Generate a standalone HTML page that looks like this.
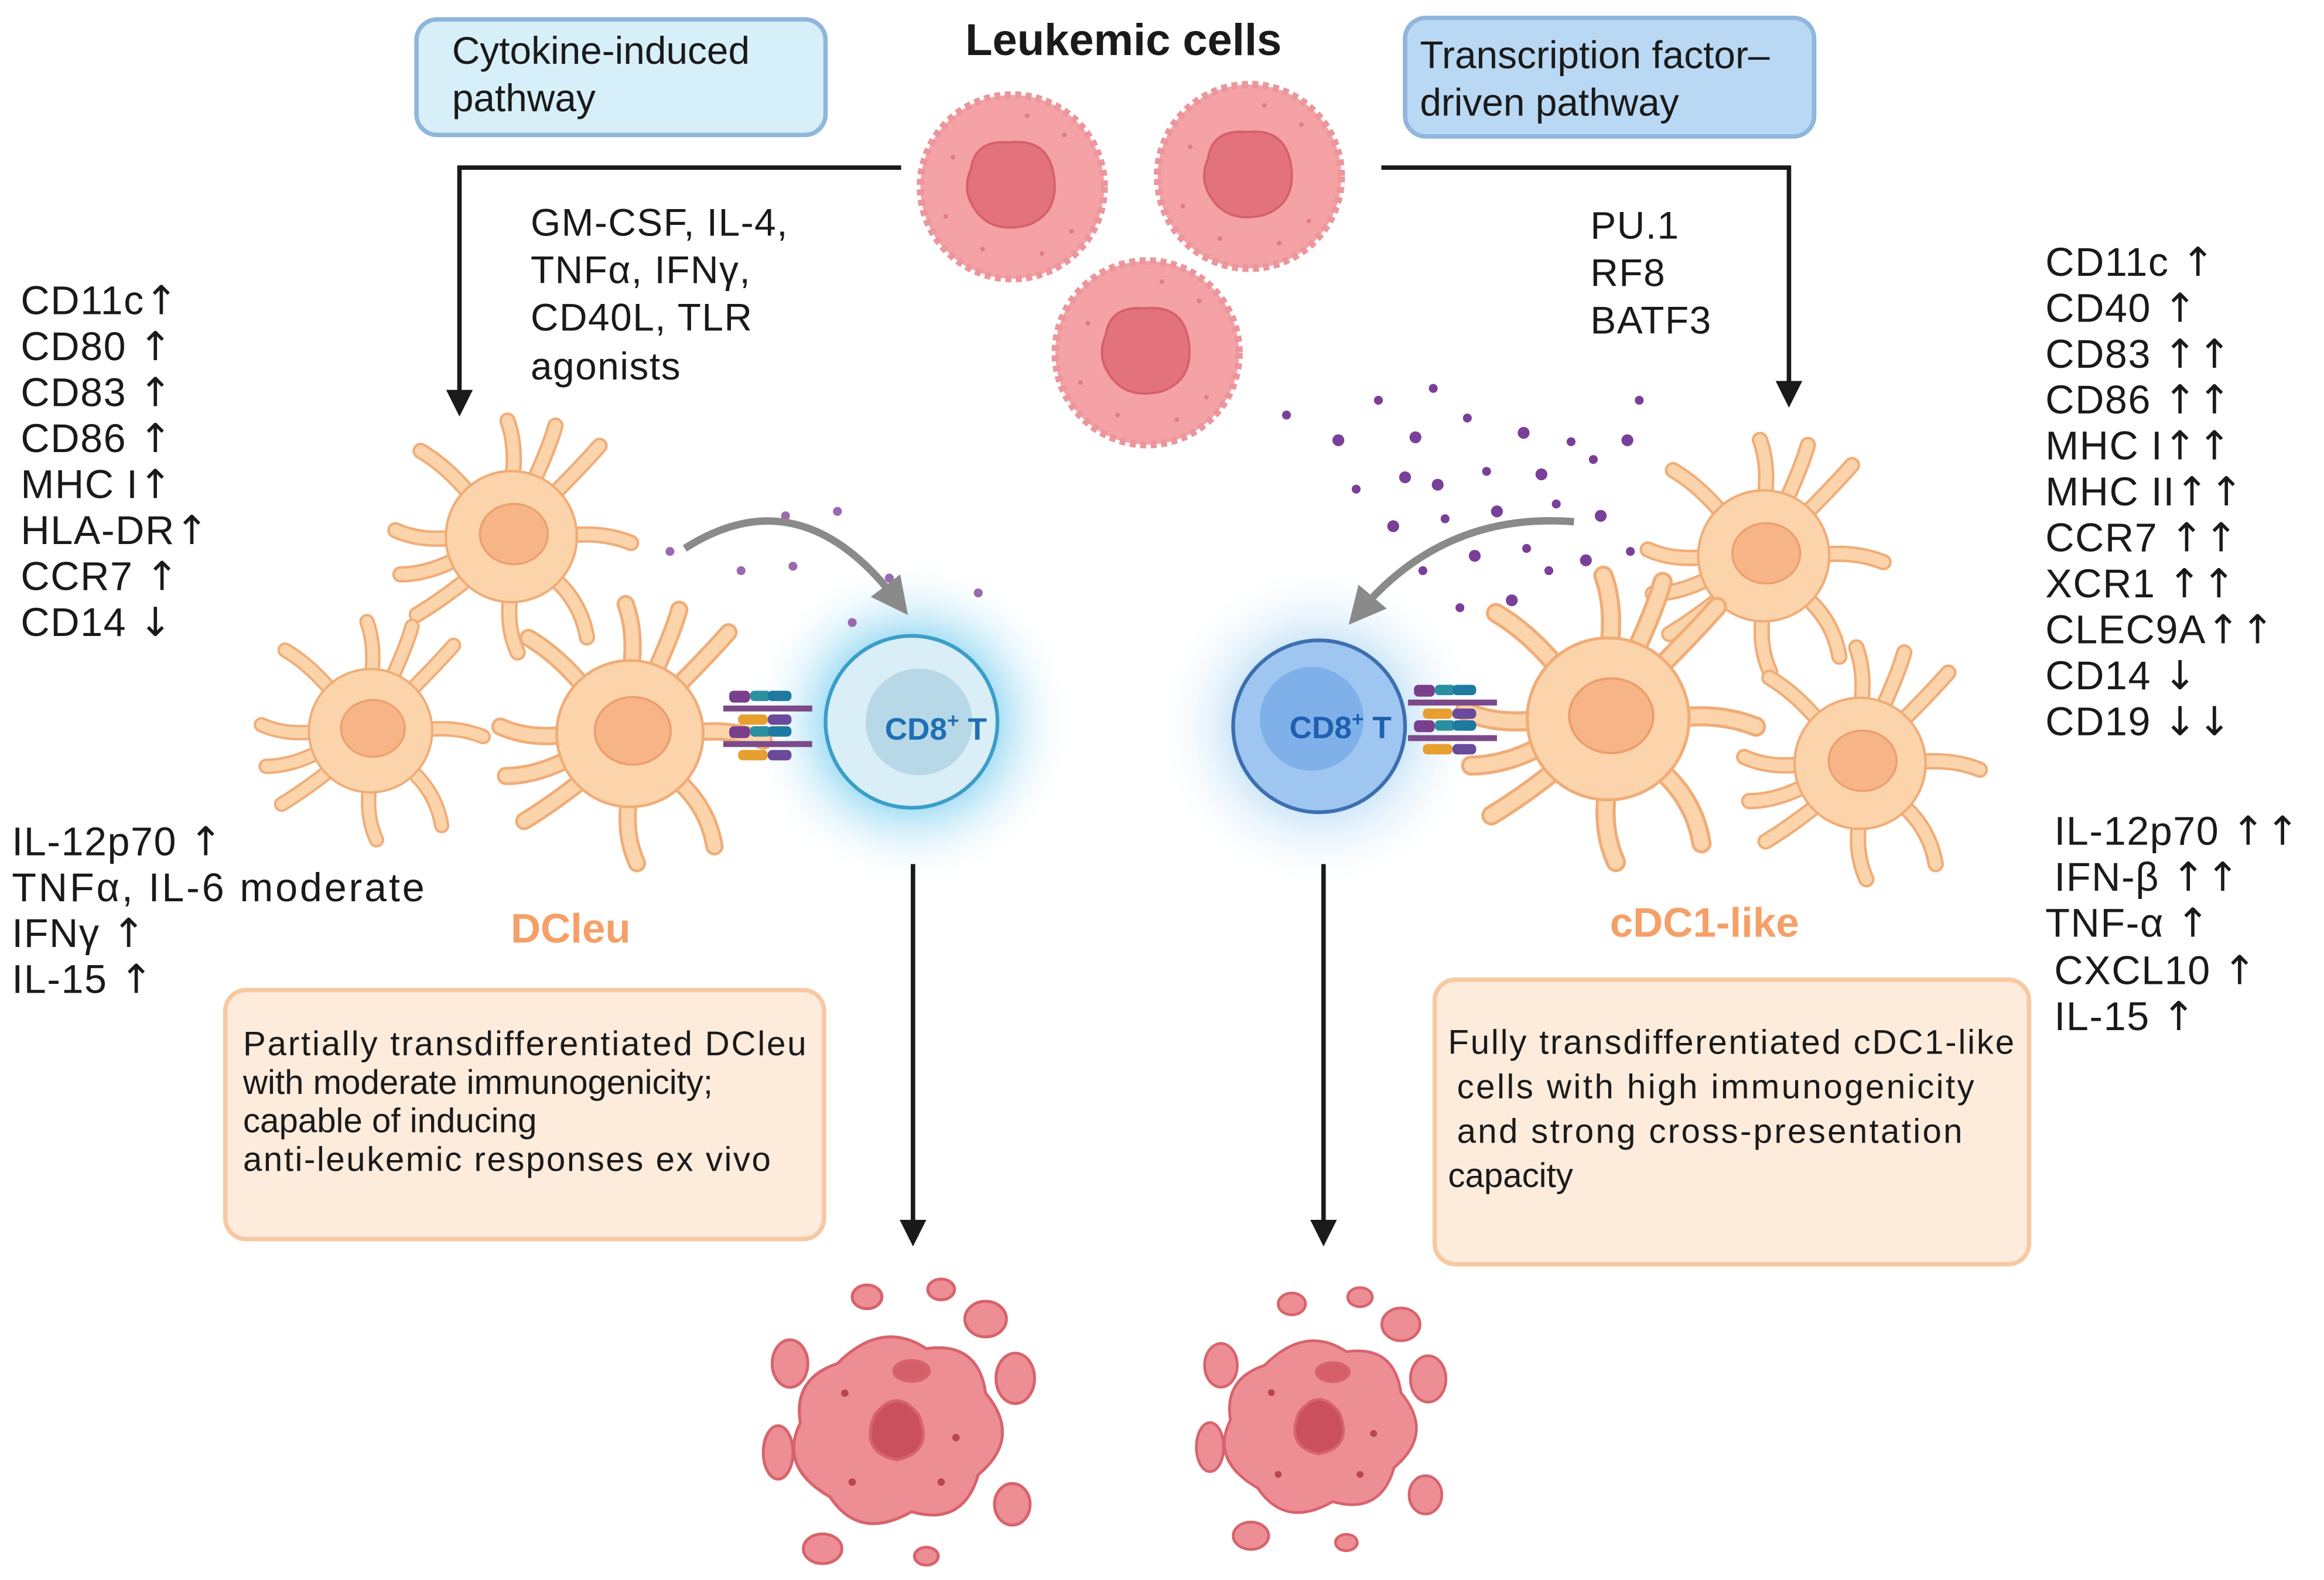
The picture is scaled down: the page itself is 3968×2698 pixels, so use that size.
<!DOCTYPE html>
<html><head><meta charset="utf-8"><style>
html,body{margin:0;padding:0;background:#fff;}
svg{display:block;}
text{font-family:"Liberation Sans",sans-serif;fill:#1a1a1a;}
.ar{font-family:"DejaVu Sans",sans-serif;}
.ls text{letter-spacing:0.6px;}
</style></head><body>
<svg width="3968" height="2698" viewBox="0 0 1568 1066" xmlns="http://www.w3.org/2000/svg">
<defs>
<radialGradient id="glow" cx="0.5" cy="0.5" r="0.5">
<stop offset="0.45" stop-color="#7fd0f0" stop-opacity="0.9"/>
<stop offset="1" stop-color="#ffffff" stop-opacity="0"/>
</radialGradient>
<radialGradient id="glow2" cx="0.5" cy="0.5" r="0.5">
<stop offset="0.45" stop-color="#b8dcf5" stop-opacity="0.9"/>
<stop offset="1" stop-color="#ffffff" stop-opacity="0"/>
</radialGradient>
<marker id="ah" markerWidth="6" markerHeight="6" refX="3" refY="3" orient="auto" markerUnits="strokeWidth">
<path d="M0,0 L6,3 L0,6 z" fill="#1a1a1a"/></marker>
<marker id="gh" markerWidth="5" markerHeight="5" refX="2.5" refY="2.5" orient="auto" markerUnits="strokeWidth">
<path d="M0,0 L5,2.5 L0,5 z" fill="#8a8a8a"/></marker>
<g id="dc">
<g stroke="#f0ad78" stroke-width="13" stroke-linecap="round" fill="none">
<path d="M0,-40 Q5,-70 -3,-92"/><path d="M30,-30 Q55,-55 70,-72"/><path d="M40,0 Q70,-5 95,5"/>
<path d="M30,30 Q55,50 60,80"/><path d="M0,42 Q-5,70 5,92"/><path d="M-30,30 Q-55,50 -75,62"/>
<path d="M-40,0 Q-70,5 -92,-5"/><path d="M-30,-30 Q-50,-55 -72,-68"/><path d="M15,-38 Q30,-70 35,-88"/><path d="M-38,15 Q-65,30 -88,30"/>
</g>
<g stroke="#fcd4ab" stroke-width="9" stroke-linecap="round" fill="none">
<path d="M0,-40 Q5,-70 -3,-92"/><path d="M30,-30 Q55,-55 70,-72"/><path d="M40,0 Q70,-5 95,5"/>
<path d="M30,30 Q55,50 60,80"/><path d="M0,42 Q-5,70 5,92"/><path d="M-30,30 Q-55,50 -75,62"/>
<path d="M-40,0 Q-70,5 -92,-5"/><path d="M-30,-30 Q-50,-55 -72,-68"/><path d="M15,-38 Q30,-70 35,-88"/><path d="M-38,15 Q-65,30 -88,30"/>
</g>
<circle r="52" fill="#fcd4ab" stroke="#f0ad78" stroke-width="2"/>
<ellipse cx="2" cy="-2" rx="27" ry="24" fill="#f7b486" stroke="#eb9e6c" stroke-width="1.5"/>
</g>
<g id="lk">
<circle r="62" fill="#f4a2a6" stroke="#ec959b" stroke-width="5" stroke-dasharray="4 3"/>
<circle r="59" fill="#f4a2a6"/>
<path d="M-28,-12 Q-25,-32 -2,-30 Q24,-33 28,-8 Q32,18 10,26 Q-15,32 -26,14 Q-34,2 -28,-12z" fill="#e2727b" stroke="#d6606a" stroke-width="1.5"/>
<g fill="#e07e85"><circle cx="-40" cy="-20" r="1.6"/><circle cx="35" cy="-35" r="1.6"/><circle cx="-20" cy="42" r="1.6"/><circle cx="40" cy="30" r="1.6"/><circle cx="-45" cy="20" r="1.6"/><circle cx="10" cy="-48" r="1.6"/><circle cx="20" cy="45" r="1.6"/></g>
</g>
<g id="dead" fill="#ec8e94" stroke="#d8636c" stroke-width="2">
<path d="M-40,-40 Q-10,-70 20,-50 Q55,-55 60,-20 Q85,10 55,35 Q45,70 10,60 Q-25,80 -45,50 Q-80,30 -65,0 Q-70,-30 -40,-40z"/>
<ellipse cx="-72" cy="-40" rx="12" ry="16"/><ellipse cx="-80" cy="20" rx="10" ry="18"/><ellipse cx="60" cy="-70" rx="14" ry="12"/>
<ellipse cx="80" cy="-30" rx="13" ry="17"/><ellipse cx="78" cy="55" rx="12" ry="14"/><ellipse cx="-50" cy="85" rx="13" ry="10"/>
<ellipse cx="20" cy="90" rx="8" ry="6"/><ellipse cx="30" cy="-90" rx="9" ry="7"/><ellipse cx="-20" cy="-85" rx="10" ry="8"/>
<path d="M-15,-5 Q0,-25 15,-5 Q25,20 0,25 Q-25,20 -15,-5z" fill="#c9505c"/>
<ellipse cx="10" cy="-35" rx="12" ry="7" fill="#d45f69"/>
<g fill="#b84550" stroke="none"><circle cx="-35" cy="-20" r="2.5"/><circle cx="40" cy="10" r="2.5"/><circle cx="-30" cy="40" r="2.5"/><circle cx="30" cy="40" r="2.5"/></g>
</g>
<g id="recep">
<rect x="0" y="-2" width="60" height="4" fill="#7a4a8a"/>
<rect x="4" y="-12" width="14" height="8" rx="3" fill="#7a3f8c"/><rect x="18" y="-12" width="14" height="7" rx="3" fill="#2a8fa0"/>
<rect x="30" y="-12" width="16" height="7" rx="3" fill="#1f7aa0"/><rect x="10" y="4" width="20" height="7" rx="3" fill="#e6a030"/><rect x="30" y="4" width="16" height="7" rx="3" fill="#6a4a9a"/>
</g>
</defs>

<rect x="281" y="13" width="276" height="78" rx="14" fill="#d7eff8" stroke="#8fb6dc" stroke-width="3"/>
<text x="305" y="43" font-size="26">Cytokine-induced</text>
<text x="305" y="75" font-size="26">pathway</text>
<rect x="948" y="12" width="276" height="80" rx="14" fill="#b9d8f3" stroke="#8fb6dc" stroke-width="3"/>
<text x="958" y="46" font-size="26">Transcription factor–</text>
<text x="958" y="78" font-size="26">driven pathway</text>
<text x="758" y="37" font-size="30" font-weight="bold" text-anchor="middle">Leukemic cells</text>

<use href="#lk" transform="translate(683,126)"/>
<use href="#lk" transform="translate(843,119)"/>
<use href="#lk" transform="translate(774,238)"/>

<path d="M608,113 H310 V272" fill="none" stroke="#1a1a1a" stroke-width="3" marker-end="url(#ah)"/>
<path d="M932,113 H1207 V266" fill="none" stroke="#1a1a1a" stroke-width="3" marker-end="url(#ah)"/>

<g font-size="26" class="ls">
<text x="358" y="159">GM-CSF, IL-4,</text>
<text x="358" y="191">TNFα, IFNγ,</text>
<text x="358" y="223">CD40L, TLR</text>
<text x="358" y="256">agonists</text>
<text x="1073" y="161">PU.1</text>
<text x="1073" y="193">RF8</text>
<text x="1073" y="225">BATF3</text>
</g>

<g font-size="27" class="ls">
<text x="14" y="212">CD11c<tspan class="ar">↑</tspan></text><text x="14" y="243">CD80 <tspan class="ar">↑</tspan></text><text x="14" y="274">CD83 <tspan class="ar">↑</tspan></text><text x="14" y="305">CD86 <tspan class="ar">↑</tspan></text>
<text x="14" y="336">MHC I<tspan class="ar">↑</tspan></text><text x="14" y="367">HLA-DR<tspan class="ar">↑</tspan></text><text x="14" y="398">CCR7 <tspan class="ar">↑</tspan></text><text x="14" y="429">CD14 <tspan class="ar">↓</tspan></text>
<text x="8" y="577">IL-12p70 <tspan class="ar">↑</tspan></text><text x="8" y="608" textLength="279">TNFα, IL-6 moderate</text><text x="8" y="639">IFNγ <tspan class="ar">↑</tspan></text><text x="8" y="670">IL-15 <tspan class="ar">↑</tspan></text>
<text x="1380" y="186">CD11c <tspan class="ar">↑</tspan></text><text x="1380" y="217">CD40 <tspan class="ar">↑</tspan></text><text x="1380" y="248">CD83 <tspan class="ar">↑↑</tspan></text><text x="1380" y="279">CD86 <tspan class="ar">↑↑</tspan></text>
<text x="1380" y="310">MHC I<tspan class="ar">↑↑</tspan></text><text x="1380" y="341">MHC II<tspan class="ar">↑↑</tspan></text><text x="1380" y="372">CCR7 <tspan class="ar">↑↑</tspan></text><text x="1380" y="403">XCR1 <tspan class="ar">↑↑</tspan></text>
<text x="1380" y="434">CLEC9A<tspan class="ar">↑↑</tspan></text><text x="1380" y="465">CD14 <tspan class="ar">↓</tspan></text><text x="1380" y="496">CD19 <tspan class="ar">↓↓</tspan></text>
<text x="1386" y="570">IL-12p70 <tspan class="ar">↑↑</tspan></text><text x="1386" y="601">IFN-β <tspan class="ar">↑↑</tspan></text><text x="1380" y="632">TNF-α <tspan class="ar">↑</tspan></text>
<text x="1386" y="664">CXCL10 <tspan class="ar">↑</tspan></text><text x="1386" y="695">IL-15 <tspan class="ar">↑</tspan></text>
</g>

<circle cx="615" cy="487" r="110" fill="url(#glow)"/>
<circle cx="890" cy="490" r="110" fill="url(#glow2)"/>

<g fill="#9a6ab0">
<circle cx="452" cy="372" r="3"/><circle cx="500" cy="385" r="3"/><circle cx="535" cy="382" r="3"/><circle cx="422" cy="410" r="3"/><circle cx="565" cy="345" r="3"/><circle cx="530" cy="348" r="3"/><circle cx="575" cy="420" r="3"/><circle cx="660" cy="400" r="3"/><circle cx="600" cy="390" r="3"/>
</g>
<g fill="#7a3f98">
<circle cx="903" cy="297" r="4"/><circle cx="930" cy="270" r="3"/><circle cx="967" cy="262" r="3"/><circle cx="955" cy="295" r="4"/><circle cx="990" cy="282" r="3"/><circle cx="1028" cy="292" r="4"/><circle cx="1060" cy="298" r="3"/><circle cx="1098" cy="297" r="4"/><circle cx="1106" cy="270" r="3"/>
<circle cx="915" cy="330" r="3"/><circle cx="948" cy="322" r="4"/><circle cx="970" cy="327" r="4"/><circle cx="1003" cy="318" r="3"/><circle cx="1040" cy="320" r="4"/><circle cx="1075" cy="310" r="3"/><circle cx="940" cy="355" r="4"/><circle cx="975" cy="350" r="3"/><circle cx="1010" cy="345" r="4"/><circle cx="1050" cy="340" r="3"/><circle cx="1080" cy="348" r="4"/>
<circle cx="960" cy="385" r="3"/><circle cx="995" cy="375" r="4"/><circle cx="1030" cy="370" r="3"/><circle cx="1070" cy="378" r="4"/><circle cx="1100" cy="372" r="3"/><circle cx="985" cy="410" r="3"/><circle cx="1020" cy="405" r="4"/><circle cx="1045" cy="385" r="3"/><circle cx="868" cy="280" r="3"/>
</g>

<use href="#dc" transform="translate(345,362) scale(0.85)"/>
<use href="#dc" transform="translate(250,493) scale(0.8)"/>
<use href="#dc" transform="translate(425,495) scale(0.95)"/>
<use href="#dc" transform="translate(1190,375) scale(0.85)"/>
<use href="#dc" transform="translate(1255,515) scale(0.85)"/>
<use href="#dc" transform="translate(1085,485) scale(1.05)"/>

<use href="#recep" transform="translate(488,478)"/>
<use href="#recep" transform="translate(488,502)"/>
<use href="#recep" transform="translate(950,474)"/>
<use href="#recep" transform="translate(950,498)"/>

<circle cx="615" cy="487" r="58" fill="#d9eef6" stroke="#3a9ec8" stroke-width="2.5"/>
<circle cx="620" cy="487" r="36" fill="#b7d8e6"/>
<text x="597" y="499" font-size="21" font-weight="bold" style="fill:#1f6fb5">CD8<tspan font-size="14" dy="-8">+</tspan><tspan dy="8"> T</tspan></text>
<circle cx="890" cy="490" r="58" fill="#9fc6f0" stroke="#3d6fb0" stroke-width="2.5"/>
<circle cx="885" cy="485" r="35" fill="#7fb0ea"/>
<text x="870" y="498" font-size="21" font-weight="bold" style="fill:#1f5fb0">CD8<tspan font-size="14" dy="-8">+</tspan><tspan dy="8"> T</tspan></text>

<path d="M462,370 Q540,320 605,405" fill="none" stroke="#8a8a8a" stroke-width="5" marker-end="url(#gh)"/>
<path d="M1062,352 Q975,345 918,412" fill="none" stroke="#8a8a8a" stroke-width="5" marker-end="url(#gh)"/>

<text x="385" y="636" font-size="28" font-weight="bold" text-anchor="middle" style="fill:#f5a068">DCleu</text>
<text x="1150" y="632" font-size="28" font-weight="bold" text-anchor="middle" style="fill:#f5a068">cDC1-like</text>

<rect x="152" y="668" width="404" height="168" rx="14" fill="#fdebdc" stroke="#f7c9a3" stroke-width="3"/>
<g font-size="23">
<text x="164" y="712" textLength="380">Partially transdifferentiated DCleu</text>
<text x="164" y="738">with moderate immunogenicity;</text>
<text x="164" y="764">capable of inducing</text>
<text x="164" y="790" textLength="356">anti-leukemic responses ex vivo</text>
</g>
<rect x="968" y="661" width="401" height="192" rx="14" fill="#fdebdc" stroke="#f7c9a3" stroke-width="3"/>
<g font-size="23">
<text x="977" y="711" textLength="382">Fully transdifferentiated cDC1-like</text>
<text x="983" y="741" textLength="349">cells with high immunogenicity</text>
<text x="983" y="771" textLength="341">and strong cross-presentation</text>
<text x="977" y="801">capacity</text>
</g>

<line x1="616" y1="583" x2="616" y2="832" stroke="#1a1a1a" stroke-width="3" marker-end="url(#ah)"/>
<line x1="893" y1="583" x2="893" y2="832" stroke="#1a1a1a" stroke-width="3" marker-end="url(#ah)"/>

<use href="#dead" transform="translate(605,960)"/>
<use href="#dead" transform="translate(890,958) scale(0.92)"/>
</svg>
</body></html>
